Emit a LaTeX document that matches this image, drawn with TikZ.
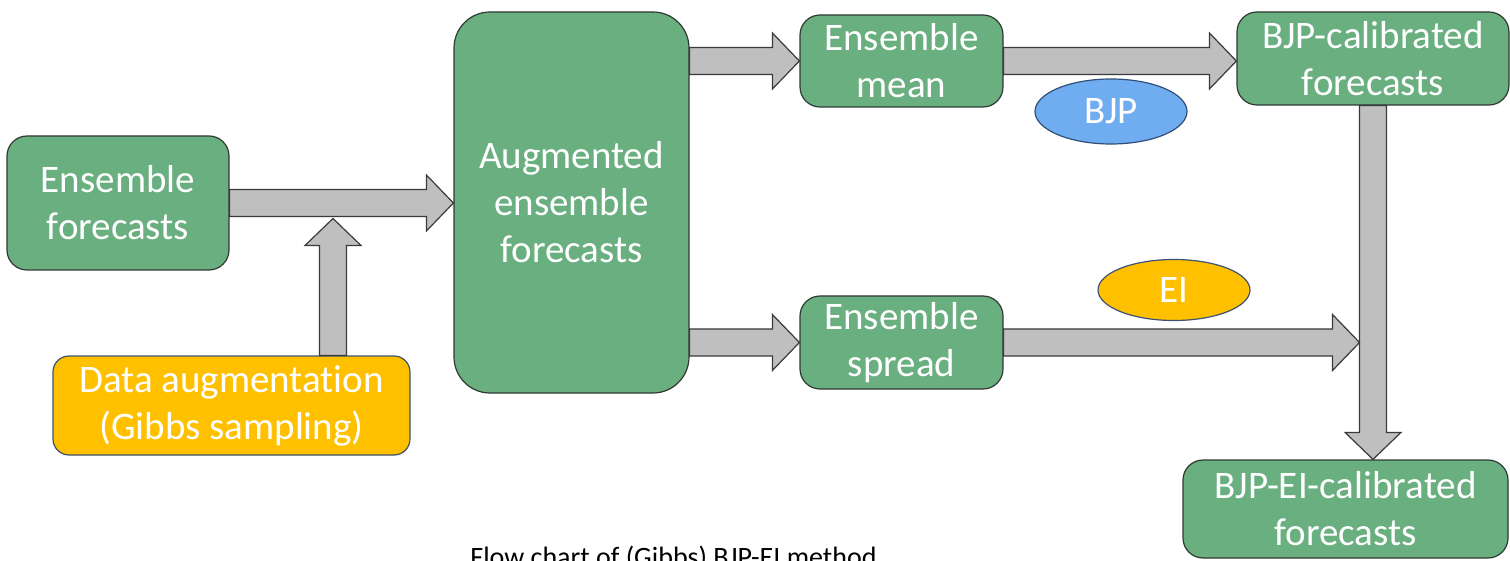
\documentclass[tikz,border=0pt]{standalone}
\usepackage{fontspec}
\setmainfont{Carlito}[Ligatures=NoCommon]
\usetikzlibrary{calc,shapes.geometric}

\definecolor{boxgreen}{HTML}{6AAF7F}
\definecolor{boxedge}{HTML}{2E3A33}
\definecolor{gold}{HTML}{FFC000}
\definecolor{goldedge}{HTML}{3E5272}
\definecolor{skyblue}{HTML}{70ADF0}
\definecolor{blueedge}{HTML}{2F4F7A}
\definecolor{arrowgray}{HTML}{BFBFBF}
\definecolor{arrowedge}{HTML}{3A3A3A}

\tikzset{
  stagebox/.style={draw=boxedge, fill=boxgreen, line width=0.6pt,
    rounded corners=10pt, text=white, align=center, inner sep=0pt,
    font=\fontsize{19.5}{23.5}\selectfont},
  inputbox/.style={stagebox, draw=goldedge, fill=gold, rounded corners=8pt},
  methodtag/.style={ellipse, draw=blueedge, line width=0.6pt, text=white,
    inner sep=0pt, font=\fontsize{19.5}{23.5}\selectfont},
  blockarr/.style={draw=arrowedge, fill=arrowgray, line width=0.6pt,
    line join=miter},
  caption/.style={font=\fontsize{14}{17}\selectfont, text=black, inner sep=0pt}
}

% Thick block arrow from #1 to #2: shaft 13.5pt wide, head 28pt wide, 13.5pt long
\newcommand\blockarrow[2]{%
  \path let \p1=(#1), \p2=(#2) in \pgfextra{%
    \pgfmathsetmacro\barlen{veclen(\x2-\x1,\y2-\y1)}%
    \pgfmathsetmacro\barang{atan2(\y2-\y1,\x2-\x1)}%
    \xdef\barlen{\barlen}\xdef\barang{\barang}};
  \draw[blockarr, shift={(#1)}, rotate=\barang]
    (0pt,-6.75pt) -- (\barlen pt-13.5pt,-6.75pt) -- (\barlen pt-13.5pt,-14pt)
    -- (\barlen pt,0pt) -- (\barlen pt-13.5pt,14pt) -- (\barlen pt-13.5pt,6.75pt)
    -- (0pt,6.75pt) -- cycle;
}

\begin{document}
\begin{tikzpicture}[x=0.5pt, y=-0.5pt]
  \useasboundingbox (0,0) rectangle (1510,561);
  \clip (0,0) rectangle (1510,561);

  % stages
  \node[stagebox, minimum width=111pt, minimum height=67pt] (ef) at (118,203)
    {Ensemble\\forecasts};
  \node[stagebox, rounded corners=18pt, minimum width=117.5pt, minimum height=190.5pt]
    (aug) at (571.5,202.5) {Augmented\\ensemble\\forecasts};
  \node[stagebox, minimum width=101.5pt, minimum height=46pt] (mean) at (901.5,61)
    {Ensemble\\mean};
  \node[stagebox, minimum width=101.5pt, minimum height=46.5pt] (spread) at (901.5,342.5)
    {Ensemble\\spread};
  \node[stagebox, minimum width=136pt, minimum height=46.5pt] (bjp) at (1373,58.5)
    {BJP-calibrated\\forecasts};
  \node[stagebox, minimum width=162.5pt, minimum height=49pt] (bjpei) at (1345.5,509)
    {BJP-EI-calibrated\\forecasts};
  \node[inputbox, minimum width=178.5pt, minimum height=49.5pt] (data) at (231.5,405.5)
    {Data augmentation\\(Gibbs sampling)};

  % method labels
  \node[methodtag, fill=skyblue, minimum width=76pt, minimum height=32.5pt] (bjptag)
    at (1111,111.5) {BJP};
  \node[methodtag, draw=goldedge, fill=gold, minimum width=76pt, minimum height=30.5pt]
    (eitag) at (1174,290) {EI};

  % junction points on the arrow shafts
  \coordinate (mix) at (333,218.5);
  \coordinate (merge) at ([xshift=-6.75pt]bjp.south |- spread.east);

  % connectors
  \blockarrow{ef.east}{aug.west |- ef.east}
  \blockarrow{data.north -| mix}{mix}
  \blockarrow{aug.east |- mean.west}{mean.west}
  \blockarrow{aug.east |- spread.west}{spread.west}
  \blockarrow{mean.east}{bjp.west |- mean.east}
  \blockarrow{bjp.south}{bjpei.north -| bjp.south}
  \blockarrow{spread.east}{merge}

  % caption, running off the lower edge
  \node[caption, anchor=base] (cap) at (673.5,566) {Flow chart of (Gibbs) BJP-EI method};
\end{tikzpicture}
\end{document}
